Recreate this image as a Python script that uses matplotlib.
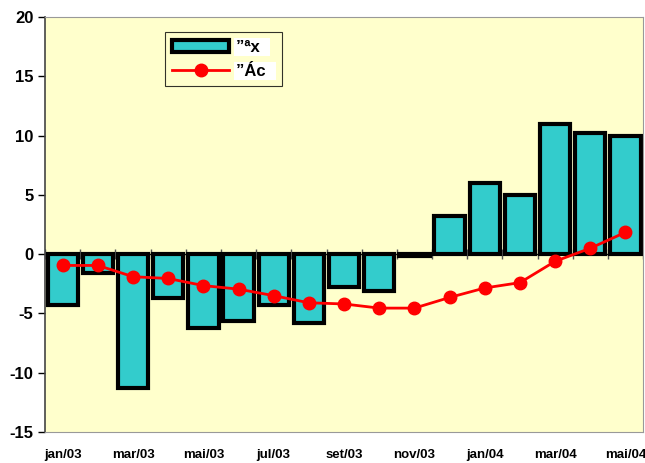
import matplotlib.pyplot as plt
import numpy as np

plt.rcParams['font.family'] = ['Liberation Sans', 'DejaVu Sans']
plt.rcParams['axes.unicode_minus'] = False

# monthly categories jan/03 .. mai/04
months = ["jan/03", "fev/03", "mar/03", "abr/03", "mai/03", "jun/03", "jul/03", "ago/03",
          "set/03", "out/03", "nov/03", "dez/03", "jan/04", "fev/04", "mar/04", "abr/04", "mai/04"]
bar_values = [-4.3, -1.6, -11.3, -3.7, -6.25, -5.6, -4.3, -5.8,
              -2.8, -3.1, -0.15, 3.2, 6.0, 5.0, 11.0, 10.2, 10.0]
line_values = [-0.95, -0.95, -1.9, -2.05, -2.65, -2.95, -3.5, -4.1,
               -4.2, -4.55, -4.55, -3.65, -2.85, -2.4, -0.6, 0.5, 1.85]
bar_label = "”ªx"
line_label = "”Ác"

fig = plt.figure(figsize=(6.45, 4.63), dpi=100)
ax = fig.add_axes([0.07, 0.067, 0.927, 0.896])
ax.set_facecolor('#FFFFCC')

x = np.arange(len(months))
bars = ax.bar(x, bar_values, width=0.86, color='#33CCCC', edgecolor='black', linewidth=3,
              label=bar_label, zorder=2)
line, = ax.plot(x, line_values, color='#FF0000', linewidth=2, marker='o', markersize=9,
                label=line_label, zorder=3)

# category axis crossing at zero
ax.axhline(0, color='black', linewidth=1, zorder=1)
ax.plot(np.arange(len(months) + 1) - 0.5, np.zeros(len(months) + 1), linestyle='none',
        marker='|', markersize=7, color='#555555', zorder=1)

ax.set_xlim(-0.5, len(months) - 0.5)
ax.set_ylim(-15, 20)
ax.set_yticks(np.arange(-15, 21, 5))
ax.set_xticks(x[::2])
ax.set_xticklabels(months[::2])
ax.tick_params(axis='x', length=0, labelsize=9.5, pad=12)
ax.tick_params(axis='y', length=5, direction='out', labelsize=12, width=1)
for lab in ax.get_xticklabels() + ax.get_yticklabels():
    lab.set_fontweight('bold')

for side in ['top', 'right', 'bottom']:
    ax.spines[side].set_color('#999999')
ax.spines['left'].set_color('#444444')
ax.spines['left'].set_linewidth(1.2)

leg = ax.legend([bars, line], [bar_label + "  ", line_label + "  "], loc='upper left',
                bbox_to_anchor=(0.2, 0.964), borderaxespad=0, frameon=True, fancybox=False,
                edgecolor='black', facecolor='#FFFFCC', handlelength=3.4, handletextpad=0.4,
                prop={'weight': 'bold', 'size': 12}, borderpad=0.45, labelspacing=0.55)
leg.get_frame().set_linewidth(0.8)
for t in leg.get_texts():
    t.set_bbox(dict(facecolor='white', edgecolor='none', pad=1))

fig.savefig("out.png", dpi=100)
